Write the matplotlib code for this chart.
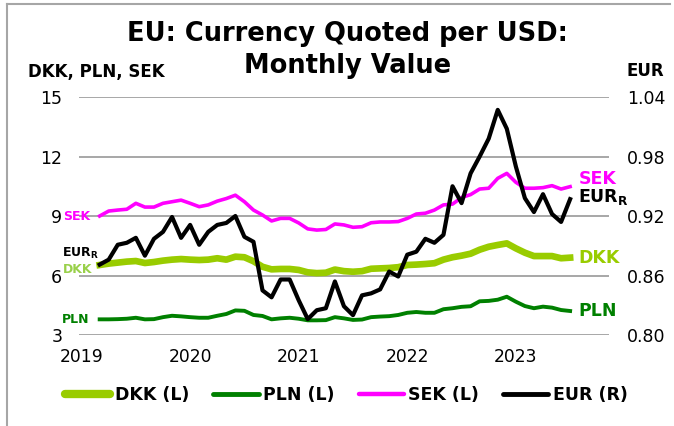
import numpy as np
import matplotlib
matplotlib.use("Agg")
import matplotlib.pyplot as plt
from matplotlib.lines import Line2D

# monthly values, Mar 2019 .. Jul 2023
dkk = [6.53, 6.60, 6.65, 6.70, 6.73, 6.63, 6.68, 6.75, 6.80, 6.83, 6.80, 6.78, 6.80, 6.87,
       6.80, 6.95, 6.92, 6.72, 6.44, 6.31, 6.33, 6.33, 6.28, 6.16, 6.12, 6.14, 6.30, 6.22,
       6.19, 6.22, 6.34, 6.36, 6.38, 6.42, 6.53, 6.55, 6.58, 6.62, 6.80, 6.92, 7.00, 7.10,
       7.30, 7.45, 7.54, 7.62, 7.37, 7.15, 6.98, 6.98, 6.98, 6.87, 6.90]
pln = [3.79, 3.79, 3.80, 3.82, 3.87, 3.79, 3.80, 3.90, 3.97, 3.94, 3.90, 3.87, 3.87, 3.97,
       4.06, 4.24, 4.22, 4.01, 3.96, 3.79, 3.84, 3.87, 3.82, 3.74, 3.74, 3.75, 3.90, 3.84,
       3.76, 3.78, 3.90, 3.93, 3.95, 4.01, 4.12, 4.16, 4.12, 4.12, 4.30, 4.35, 4.42, 4.45,
       4.70, 4.72, 4.78, 4.93, 4.68, 4.46, 4.35, 4.43, 4.38, 4.26, 4.21]
sek = [9.00, 9.25, 9.30, 9.34, 9.64, 9.45, 9.45, 9.64, 9.72, 9.80, 9.64, 9.47, 9.56, 9.75,
       9.88, 10.05, 9.72, 9.30, 9.05, 8.75, 8.88, 8.88, 8.65, 8.35, 8.29, 8.32, 8.60, 8.55,
       8.43, 8.46, 8.66, 8.70, 8.70, 8.72, 8.88, 9.10, 9.14, 9.30, 9.56, 9.60, 9.93, 10.08,
       10.36, 10.40, 10.90, 11.15, 10.70, 10.40, 10.40, 10.43, 10.53, 10.36, 10.48]
eur = [0.871, 0.876, 0.891, 0.893, 0.898, 0.880, 0.897, 0.904, 0.919, 0.898, 0.911, 0.891,
       0.904, 0.911, 0.913, 0.920, 0.899, 0.894, 0.845, 0.838, 0.856, 0.856, 0.835, 0.816,
       0.825, 0.827, 0.854, 0.829, 0.820, 0.840, 0.842, 0.846, 0.864, 0.859, 0.881, 0.884,
       0.897, 0.893, 0.901, 0.950, 0.933, 0.963, 0.980, 0.998, 1.027, 1.008, 0.970, 0.938,
       0.924, 0.942, 0.922, 0.914, 0.937]
years = ["2019", "2020", "2021", "2022", "2023"]

months = np.arange(len(eur))
year_pos = [-2 + 12 * k for k in range(len(years))]  # January of each year

c_dkk = "#99cc00"
c_pln = "#008000"
c_sek = "#ff00ff"
c_eur = "black"

fig = plt.figure(figsize=(6.74, 4.26), dpi=100)
ax = fig.add_axes([0.117, 0.2136, 0.7866, 0.5587])
ax2 = ax.twinx()

ax.plot(months, pln, color=c_pln, lw=2.8)
ax.plot(months, dkk, color=c_dkk, lw=4.8)
ax.plot(months, sek, color=c_sek, lw=2.6)
ax2.plot(months, eur, color=c_eur, lw=3.0)

ax.set_xlim(-2.3, 56.3)
ax.set_ylim(3, 15)
ax.set_yticks([3, 6, 9, 12, 15])
ax2.set_ylim(0.80, 1.04)
ax2.set_yticks([0.80, 0.86, 0.92, 0.98, 1.04])
ax2.set_yticklabels(["%.2f" % v for v in ax2.get_yticks()])
ax.set_xticks(year_pos)
ax.set_xticklabels(years)

ax.grid(axis="y", color="#a0a0a0", lw=1.3)
ax.set_axisbelow(True)
for a in (ax, ax2):
    for s in a.spines.values():
        s.set_visible(False)
ax.tick_params(axis="y", length=0, pad=12, labelsize=12.5)
ax.tick_params(axis="x", length=0, pad=9, labelsize=12.3)
ax2.tick_params(axis="y", length=0, pad=13, labelsize=12.5)

# series labels at both ends of the lines
small = dict(fontsize=9, fontweight="bold", va="center", clip_on=False)
ax.text(-1.0, 9.0, "SEK", color=c_sek, ha="right", **small)
ax.text(-0.1, 7.1, "EUR$_{\\mathbf{R}}$", color=c_eur, ha="right", **small)
ax.text(-0.8, 6.28, "DKK", color="#99d04a", ha="right", **small)
ax.text(-1.1, 3.8, "PLN", color=c_pln, ha="right", **small)

big = dict(fontsize=12.5, fontweight="bold", va="center", ha="left", clip_on=False)
ax.text(52.9, 10.85, "SEK", color=c_sek, **big)
ax.text(52.9, 9.95, "EUR$_{\\mathbf{R}}$", color=c_eur, **big)
ax.text(52.9, 6.88, "DKK", color=c_dkk, **big)
ax.text(52.9, 4.21, "PLN", color=c_pln, **big)

# titles
fig.text(0.515, 0.9038, "EU: Currency Quoted per USD:", ha="center", va="baseline",
         fontsize=18.5, fontweight="bold")
fig.text(0.515, 0.828, "Monthly Value", ha="center", va="baseline",
         fontsize=18.5, fontweight="bold")
fig.text(0.042, 0.830, "DKK, PLN, SEK", ha="left", va="center", fontsize=12, fontweight="bold")
fig.text(0.958, 0.833, "EUR", ha="center", va="center", fontsize=12, fontweight="bold")

# legend
handles = [Line2D([0], [0], color=c_dkk, lw=6, solid_capstyle="round"),
           Line2D([0], [0], color=c_pln, lw=3.5, solid_capstyle="round"),
           Line2D([0], [0], color=c_sek, lw=3.2, solid_capstyle="round"),
           Line2D([0], [0], color=c_eur, lw=3.5, solid_capstyle="round")]
fig.legend(handles, ["DKK (L)", "PLN (L)", "SEK (L)", "EUR (R)"], loc="center",
           bbox_to_anchor=(0.514, 0.073), ncol=4, frameon=False,
           prop={"size": 12.5, "weight": "bold"}, handlelength=2.6,
           handletextpad=0.25, columnspacing=1.4)

# chart border (top and left edges)
fig.add_artist(Line2D([0.010, 0.994], [0.991, 0.991], transform=fig.transFigure,
                      color="#a6a6a6", lw=1.5))
fig.add_artist(Line2D([0.010, 0.010], [0.0, 0.991], transform=fig.transFigure,
                      color="#a6a6a6", lw=1.5))

fig.savefig("out.png", dpi=100)
